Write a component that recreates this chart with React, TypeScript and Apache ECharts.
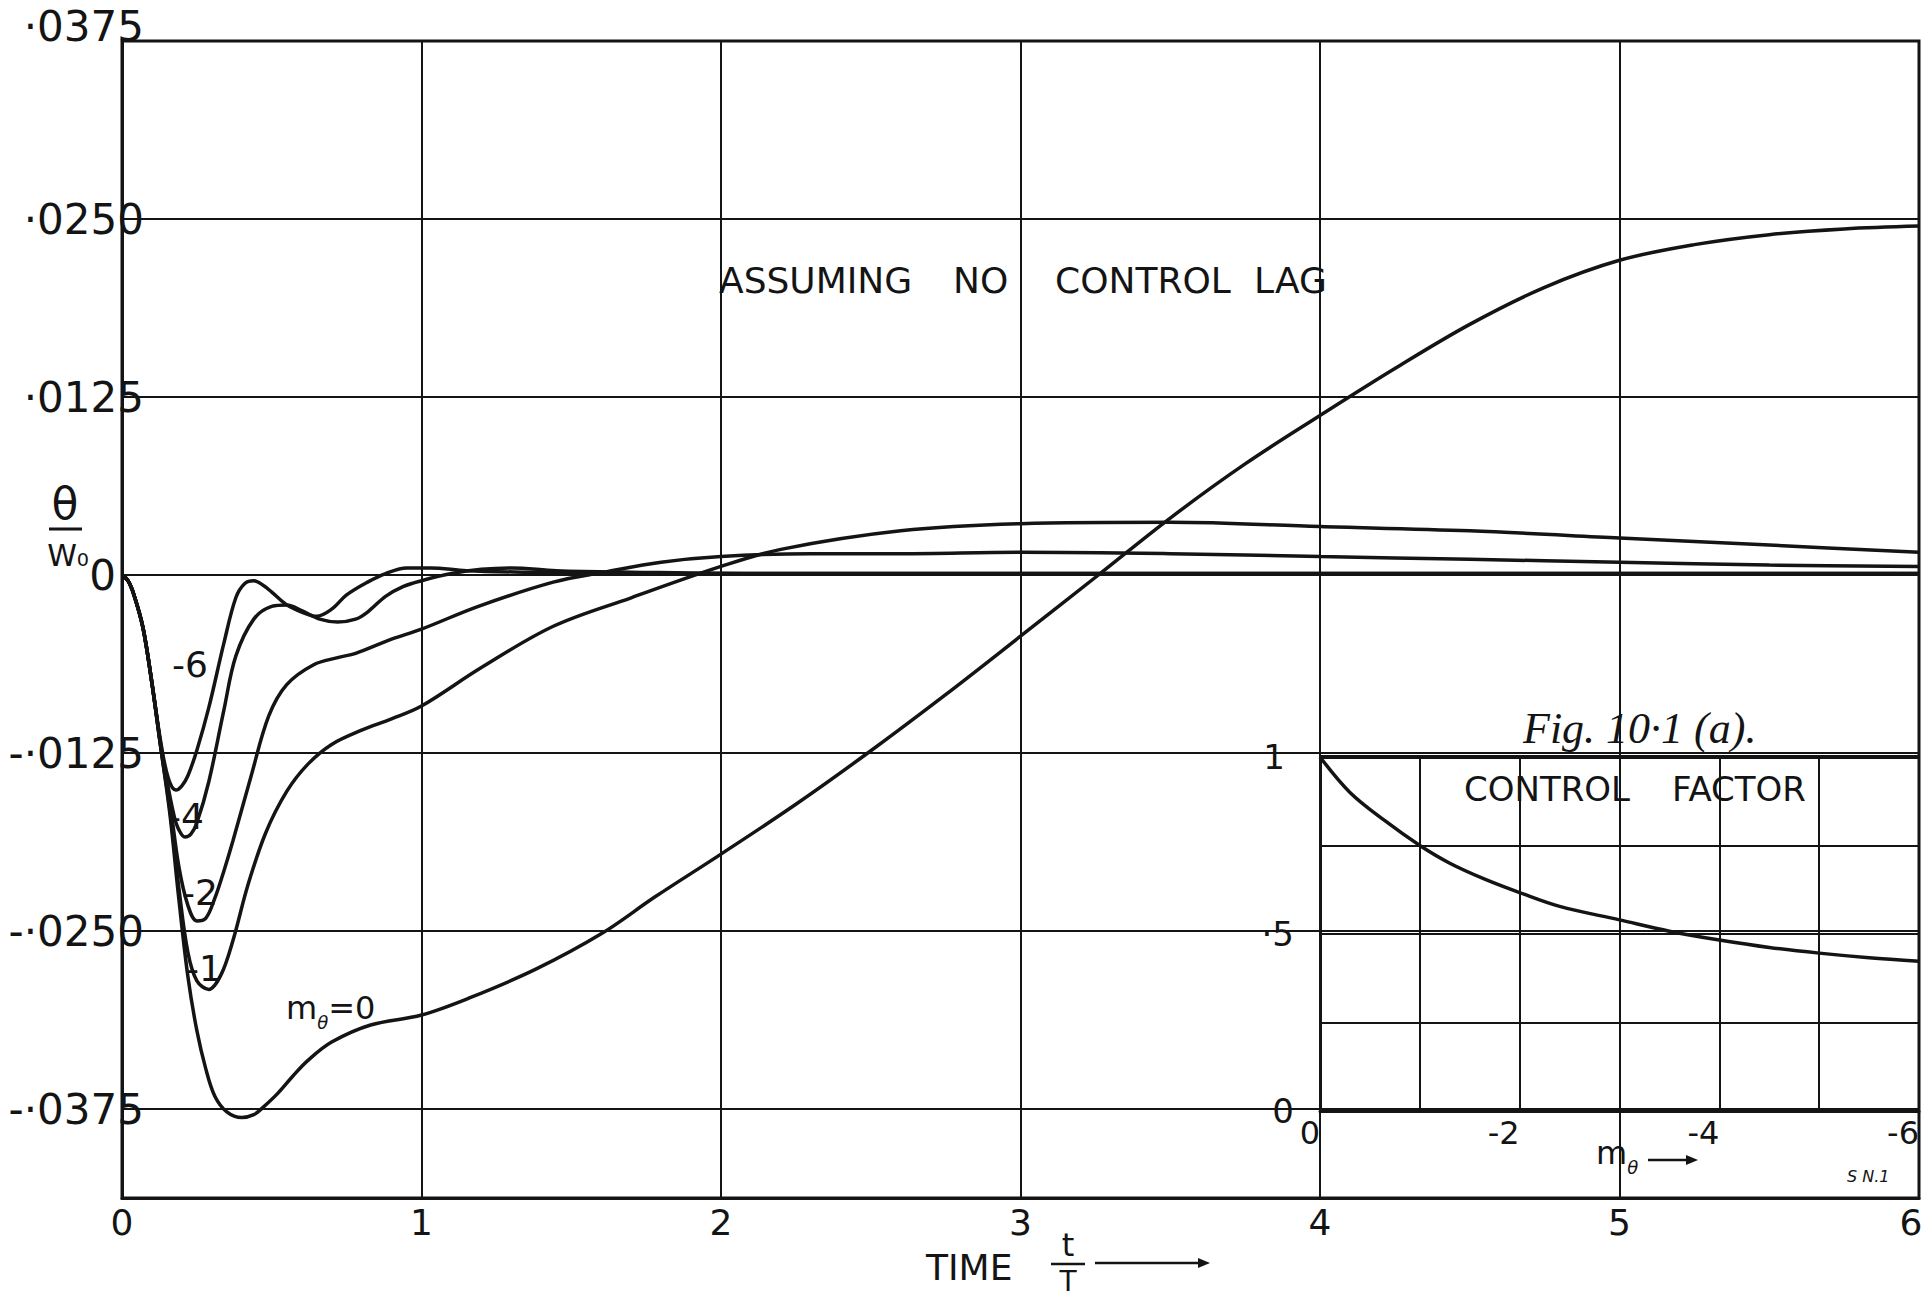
import React, { useEffect, useRef } from 'react';
import * as echarts from 'echarts';

const FONT = "'DejaVu Sans', sans-serif";
const INK = '#141414';

// Main plot: time t/T against θ/w0
const timeMin = 0;
const timeMax = 6;
const thetaMin = -0.04375;
const thetaMax = 0.0375;
const thetaGridValues = [0.0375, 0.025, 0.0125, 0, -0.0125, -0.025, -0.0375];
const thetaTickLabels = ['·0375', '·0250', '·0125', '0', '-·0125', '-·0250', '-·0375'];

// Response curves, one per value of mθ: [t/T, θ/w0]
const curveM0: [number, number][] = [
  [0, 0], [0.02, -0.0004], [0.04, -0.0014], [0.07, -0.0037], [0.1, -0.0076], [0.13, -0.0122],
  [0.16, -0.0168], [0.19, -0.0228], [0.22, -0.0282], [0.25, -0.032], [0.28, -0.0347], [0.31, -0.0366],
  [0.35, -0.0377], [0.4, -0.0381], [0.44, -0.0379], [0.47, -0.0374], [0.52, -0.0364], [0.57, -0.0352],
  [0.62, -0.0341], [0.7, -0.0328], [0.83, -0.0316], [1.0, -0.0309], [1.16, -0.0297], [1.38, -0.0277],
  [1.6, -0.0252], [1.78, -0.0226], [2.0, -0.0196], [2.25, -0.0161], [2.49, -0.0125], [2.75, -0.0084],
  [3.0, -0.0043], [3.26, 0.0], [3.5, 0.004], [3.75, 0.0078], [4.0, 0.0112], [4.25, 0.0145],
  [4.5, 0.0176], [4.75, 0.0202], [5.0, 0.0221], [5.25, 0.0232], [5.5, 0.0239], [5.75, 0.0243], [6.0, 0.0245],
];
const curveM1: [number, number][] = [
  [0, 0], [0.02, -0.0004], [0.04, -0.0014], [0.07, -0.0037], [0.1, -0.0076], [0.13, -0.0122],
  [0.16, -0.0165], [0.19, -0.022], [0.22, -0.0265], [0.25, -0.0285], [0.29, -0.0291], [0.33, -0.0281],
  [0.37, -0.0257], [0.42, -0.0218], [0.48, -0.0181], [0.55, -0.0152], [0.62, -0.0133], [0.7, -0.0119],
  [0.8, -0.0109], [0.9, -0.0101], [1.0, -0.0092], [1.2, -0.0065], [1.44, -0.0036], [1.7, -0.0016],
  [2.0, 0.0006], [2.2, 0.0018], [2.6, 0.0031], [3.0, 0.0036], [3.5, 0.0037], [4.0, 0.0034],
  [4.5, 0.0031], [5.0, 0.0026], [5.5, 0.0021], [6.0, 0.0016],
];
const curveM2: [number, number][] = [
  [0, 0], [0.02, -0.0004], [0.04, -0.0014], [0.07, -0.0037], [0.1, -0.0076], [0.13, -0.0121],
  [0.16, -0.016], [0.19, -0.0205], [0.22, -0.0232], [0.25, -0.0243], [0.28, -0.0241], [0.31, -0.0227],
  [0.34, -0.0208], [0.37, -0.0187], [0.43, -0.0142], [0.49, -0.0099], [0.55, -0.0077], [0.64, -0.0063],
  [0.72, -0.0058], [0.78, -0.0055], [0.9, -0.0045], [1.0, -0.0038], [1.19, -0.0022], [1.44, -0.0005],
  [1.61, 0.0002], [1.8, 0.0009], [2.0, 0.0013], [2.3, 0.0015], [2.6, 0.0015], [3.0, 0.0016],
  [3.5, 0.0015], [4.0, 0.0013], [4.5, 0.0011], [5.0, 0.0009], [5.5, 0.0007], [6.0, 0.0006],
];
const curveM4: [number, number][] = [
  [0, 0], [0.02, -0.0004], [0.04, -0.0014], [0.07, -0.0037], [0.1, -0.0076], [0.13, -0.012],
  [0.155, -0.015], [0.175, -0.017], [0.19, -0.0179], [0.21, -0.0184], [0.23, -0.0182], [0.25, -0.0174],
  [0.29, -0.0145], [0.34, -0.0095], [0.38, -0.0057], [0.44, -0.0031], [0.5, -0.0022], [0.55, -0.0021],
  [0.6, -0.0025], [0.66, -0.0031], [0.72, -0.0033], [0.78, -0.0031], [0.82, -0.0026], [0.88, -0.0015],
  [0.94, -0.0008], [1.0, -0.0004], [1.1, 0.0001], [1.2, 0.0004], [1.3, 0.0005], [1.45, 0.0003],
  [1.7, 0.0002], [2.2, 0.0001], [3.0, 0.0001], [4.0, 0.0001], [5.0, 0.0001], [6.0, 0.0001],
];
const curveM6: [number, number][] = [
  [0, 0], [0.02, -0.0004], [0.04, -0.0014], [0.07, -0.0037], [0.1, -0.0076], [0.13, -0.0118],
  [0.155, -0.0143], [0.18, -0.0151], [0.2, -0.0148], [0.22, -0.0141], [0.25, -0.0123], [0.29, -0.0093],
  [0.34, -0.0048], [0.38, -0.0016], [0.41, -0.0006], [0.44, -0.0004], [0.47, -0.0007], [0.5, -0.0012],
  [0.55, -0.0021], [0.6, -0.0026], [0.65, -0.0029], [0.7, -0.0024], [0.75, -0.0014], [0.82, -0.0005],
  [0.88, 0.0001], [0.95, 0.0005], [1.03, 0.0005], [1.15, 0.0003], [1.35, 0.0002], [1.7, 0.0001],
  [2.5, 0.0001], [3.5, 0.0001], [4.5, 0.0001], [6.0, 0.0001],
];

// Inset: control factor against mθ
const mThetaValues = [0, -0.3, -0.65, -1, -1.3, -1.65, -2, -2.4, -3, -3.5, -4, -4.5, -5, -5.5, -6];
const controlFactor = [1.0, 0.9, 0.82, 0.75, 0.7, 0.655, 0.617, 0.578, 0.54, 0.508, 0.483, 0.462, 0.446, 0.433, 0.423];
const factorTickLabels: Record<string, string> = { '1': '{one|1}', '0.5': '·5', '0': '0' };

const curveStyle = { color: INK, width: 3.5 };

function text(x: number, y: number, str: string, size: number, extra: any = {}) {
  return {
    type: 'text',
    x,
    y,
    silent: true,
    style: {
      text: str,
      fontSize: size,
      fontFamily: FONT,
      fill: INK,
      align: 'left',
      verticalAlign: 'middle',
      textAlign: 'left',
      textVerticalAlign: 'middle',
      ...extra,
    },
  };
}

function arrow(x1: number, x2: number, y: number) {
  return [
    { type: 'line', silent: true, shape: { x1, y1: y, x2: x2 - 6, y2: y }, style: { stroke: INK, lineWidth: 2.5 } },
    {
      type: 'polygon',
      silent: true,
      shape: { points: [[x2, y], [x2 - 12, y - 5], [x2 - 12, y + 5]] },
      style: { fill: INK },
    },
  ];
}

const subscriptRich = {
  a: { fontSize: 32, fontFamily: FONT, fill: INK, color: INK, lineHeight: 46, verticalAlign: 'middle' },
  b: { fontSize: 18, fontFamily: FONT, fill: INK, color: INK, lineHeight: 18, verticalAlign: 'bottom', fontStyle: 'italic' },
};

export default function App() {
  const ref = useRef<HTMLDivElement>(null);

  useEffect(() => {
    if (!ref.current) return;
    const chart = echarts.init(ref.current, undefined, { renderer: 'svg' });

    const lineSeries = (name: string, data: [number, number][], extra: any = {}) => ({
      name,
      type: 'line',
      xAxisIndex: 0,
      yAxisIndex: 0,
      data,
      smooth: 0.35,
      showSymbol: false,
      symbol: 'none',
      lineStyle: curveStyle,
      silent: true,
      z: 3,
      ...extra,
    });

    chart.setOption({
      animation: false,
      backgroundColor: '#ffffff',
      textStyle: { fontFamily: FONT, color: INK },
      grid: [
        {
          left: 122, top: 41, width: 1797, height: 1157,
          outerBoundsMode: 'none', containLabel: false,
          show: true, borderColor: INK, borderWidth: 3, backgroundColor: 'transparent',
        },
        { left: 1320, top: 757, width: 599, height: 354, outerBoundsMode: 'none', containLabel: false, show: false },
      ],
      xAxis: [
        {
          gridIndex: 0,
          type: 'value',
          min: timeMin,
          max: timeMax,
          interval: 1,
          axisLine: { show: true, onZero: false, lineStyle: { color: INK, width: 3 } },
          axisTick: { show: false },
          splitLine: { show: true, lineStyle: { color: INK, width: 2 } },
          axisLabel: {
            color: INK,
            fontFamily: FONT,
            fontSize: 36,
            margin: 6,
            // the last label is nudged left so it stays inside the page
            formatter: (v: number) => (v === timeMax ? '{end|' + v + '}' : String(v)),
            rich: { end: { fontSize: 36, fontFamily: FONT, color: INK, padding: [0, 16, 0, 0] } },
          },
        },
        {
          gridIndex: 1,
          type: 'value',
          min: -6,
          max: 0,
          interval: 1,
          inverse: true,
          axisLine: { show: true, onZero: false, lineStyle: { color: INK, width: 3 } },
          axisTick: { show: false },
          splitLine: { show: true, lineStyle: { color: INK, width: 2 } },
          axisLabel: {
            color: INK,
            fontFamily: FONT,
            fontSize: 32,
            margin: 6,
            align: 'right',
            formatter: (v: number) => (Math.round(v) % 2 === 0 ? String(Math.round(v)) : ''),
          },
        },
      ],
      yAxis: [
        {
          gridIndex: 0,
          type: 'value',
          min: thetaMin,
          max: thetaMax,
          interval: 0.00625,
          axisLine: { show: true, onZero: false, lineStyle: { color: INK, width: 3 } },
          axisTick: { show: false },
          splitLine: { show: false },
          axisLabel: {
            color: INK,
            fontFamily: FONT,
            fontSize: 42,
            margin: -22,
            align: 'right',
            formatter: (v: number) => {
              const i = thetaGridValues.findIndex((g) => Math.abs(g - v) < 1e-7);
              if (i < 0) return '';
              if (i === 0) return '{top|' + thetaTickLabels[i] + '}';
              if (thetaGridValues[i] === 0) return '{zero|0}';
              return '{n|' + thetaTickLabels[i] + '}';
            },
            rich: {
              n: { fontSize: 42, fontFamily: FONT, color: INK },
              top: { fontSize: 42, fontFamily: FONT, color: INK, padding: [0, 0, 30, 0] },
              zero: { fontSize: 42, fontFamily: FONT, color: INK, padding: [0, 28, 0, 0] },
            },
          },
        },
        {
          gridIndex: 1,
          type: 'value',
          min: 0,
          max: 1,
          interval: 0.25,
          axisLine: { show: true, onZero: false, lineStyle: { color: INK, width: 3 } },
          axisTick: { show: false },
          splitLine: { show: true, lineStyle: { color: INK, width: 2 } },
          axisLabel: {
            color: INK,
            fontFamily: FONT,
            fontSize: 34,
            margin: 26,
            formatter: (v: number) => factorTickLabels[String(Math.round(v * 100) / 100)] || '',
            rich: { one: { fontSize: 34, fontFamily: FONT, color: INK, padding: [0, 9, 0, 0] } },
          },
        },
      ],
      series: [
        lineSeries('mθ=0', curveM0, {
          markLine: {
            silent: true,
            precision: 6,
            symbol: ['none', 'none'],
            label: { show: false },
            lineStyle: { color: INK, width: 2, type: 'solid' },
            data: thetaGridValues.map((v) => ({ yAxis: v })),
          },
        }),
        lineSeries('mθ=-1', curveM1),
        lineSeries('mθ=-2', curveM2),
        lineSeries('mθ=-4', curveM4),
        lineSeries('mθ=-6', curveM6),
        {
          name: 'control factor',
          type: 'line',
          xAxisIndex: 1,
          yAxisIndex: 1,
          data: mThetaValues.map((m, i) => [m, controlFactor[i]]),
          smooth: 0.35,
          showSymbol: false,
          symbol: 'none',
          lineStyle: curveStyle,
          silent: true,
          z: 3,
          markLine: {
            silent: true,
            precision: 6,
            symbol: ['none', 'none'],
            label: { show: false },
            lineStyle: { color: INK, width: 4, type: 'solid' },
            data: [{ yAxis: 1 }],
          },
        },
      ],
      graphic: [
        // heading
        text(719, 280, 'ASSUMING', 36),
        text(953, 280, 'NO', 36),
        text(1055, 280, 'CONTROL', 36),
        text(1254, 280, 'LAG', 36),
        // inset heading
        text(1464, 789, 'CONTROL', 34),
        text(1672, 789, 'FACTOR', 34),
        text(1523, 728, 'Fig. 10·1 (a).', 44, { fontFamily: "'Liberation Serif', serif", fontStyle: 'italic' }),
        text(1847, 1176, 'S N.1', 16, { fontStyle: 'italic' }),
        // inset axis name mθ with arrow
        {
          type: 'text',
          x: 1596,
          y: 1130,
          silent: true,
          style: {
            text: '{a|m}{b|θ}',
            rich: subscriptRich,
            fill: INK,
            align: 'left',
            verticalAlign: 'top',
            textAlign: 'left',
            textVerticalAlign: 'top',
          },
        },
        ...arrow(1648, 1698, 1160),
        // curve labels
        text(172, 664, '-6', 36),
        text(168, 816, '-4', 36),
        text(182, 892, '-2', 36),
        text(186, 968, '-1', 36),
        {
          type: 'text',
          x: 286,
          y: 985,
          silent: true,
          style: {
            text: '{a|m}{b|θ}{a|=0}',
            rich: subscriptRich,
            fill: INK,
            align: 'left',
            verticalAlign: 'top',
            textAlign: 'left',
            textVerticalAlign: 'top',
          },
        },
        // y-axis name θ / w0
        text(65, 503, 'θ', 44, { align: 'center', textAlign: 'center' }),
        { type: 'line', silent: true, shape: { x1: 49, y1: 529, x2: 82, y2: 529 }, style: { stroke: INK, lineWidth: 3 } },
        text(68, 555, 'W₀', 30, { align: 'center', textAlign: 'center' }),
        // x-axis name TIME t/T
        text(926, 1267, 'TIME', 36),
        text(1068, 1261, 't', 32, { align: 'center', textAlign: 'center', verticalAlign: 'bottom', textVerticalAlign: 'bottom' }),
        { type: 'line', silent: true, shape: { x1: 1051, y1: 1264, x2: 1085, y2: 1264 }, style: { stroke: INK, lineWidth: 2.5 } },
        text(1068, 1267, 'T', 28, { align: 'center', textAlign: 'center', verticalAlign: 'top', textVerticalAlign: 'top' }),
        ...arrow(1095, 1210, 1263),
      ],
    });

    return () => chart.dispose();
  }, []);

  return (
    <div
      ref={ref}
      style={{ position: 'fixed', left: 0, top: 0, width: 1928, height: 1297, background: '#ffffff' }}
    />
  );
}
